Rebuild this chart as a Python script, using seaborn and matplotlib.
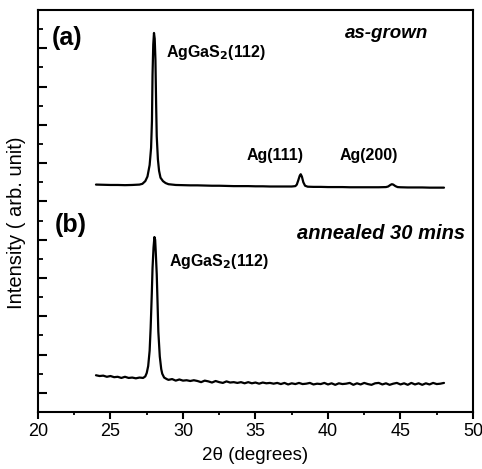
import matplotlib
matplotlib.use("Agg")
import matplotlib.pyplot as plt
import seaborn as sns
import pandas as pd
from matplotlib.ticker import MultipleLocator, FixedLocator, NullFormatter

# ---- data ----
a_two_theta = [24.0, 24.5, 25.0, 25.5, 26.0, 26.5, 27.0, 27.2, 27.4, 27.55, 27.7, 27.8,
               27.86, 27.9, 27.95, 28.0, 28.05, 28.1, 28.15, 28.19, 28.27, 28.35, 28.45,
               28.62, 28.8, 29.0, 29.5, 30.0, 30.5, 31.0, 31.5, 32.0, 32.5, 33.0, 33.5,
               34.0, 34.5, 35.0, 35.5, 36.0, 36.5, 37.0, 37.5, 37.75, 37.85, 37.95, 38.05,
               38.12, 38.2, 38.3, 38.42, 38.6, 39.0, 39.5, 40.0, 40.5, 41.0, 41.5, 42.0,
               42.5, 43.0, 43.5, 44.0, 44.15, 44.3, 44.4, 44.5, 44.65, 44.8, 45.0, 45.5,
               46.0, 46.5, 47.0, 47.5, 48.0]
a_intensity = [5.94, 5.935, 5.93, 5.93, 5.925, 5.93, 5.94, 5.96, 6.03, 6.15, 6.45, 6.9,
               7.6, 8.8, 9.6, 9.9, 9.75, 9.2, 8.0, 7.2, 6.6, 6.3, 6.12,
               6.03, 5.98, 5.95, 5.93, 5.925, 5.92, 5.92, 5.915, 5.91, 5.91, 5.905, 5.9,
               5.9, 5.9, 5.895, 5.895, 5.89, 5.89, 5.89, 5.89, 5.9, 5.94, 6.05, 6.17,
               6.21, 6.15, 6.0, 5.91, 5.885, 5.88, 5.88, 5.875, 5.875, 5.875, 5.87, 5.87,
               5.87, 5.87, 5.87, 5.875, 5.89, 5.93, 5.95, 5.94, 5.9, 5.875, 5.87, 5.865,
               5.865, 5.865, 5.86, 5.86, 5.86]

b_two_theta = [24.0, 24.25, 24.5, 24.75, 25.0, 25.25, 25.5, 25.75, 26.0, 26.25, 26.5,
               26.75, 27.0, 27.25, 27.4, 27.5, 27.6, 27.7, 27.77, 27.85, 27.9, 27.97,
               28.03, 28.08, 28.12, 28.19, 28.25, 28.3, 28.4, 28.5, 28.57, 28.7, 28.88,
               29.0, 29.25, 29.5, 29.75, 30.0, 30.25, 30.5, 30.75, 31.0, 31.25, 31.5,
               31.75, 32.0, 32.25, 32.5, 32.75, 33.0, 33.25, 33.5, 33.75, 34.0, 34.25,
               34.5, 34.75, 35.0, 35.25, 35.5, 35.75, 36.0, 36.25, 36.5, 36.75, 37.0,
               37.25, 37.5, 37.75, 38.0, 38.25, 38.5, 38.75, 39.0, 39.25, 39.5, 39.75,
               40.0, 40.25, 40.5, 40.75, 41.0, 41.25, 41.5, 41.75, 42.0, 42.25, 42.5,
               42.75, 43.0, 43.25, 43.5, 43.75, 44.0, 44.25, 44.5, 44.75, 45.0, 45.25,
               45.5, 45.75, 46.0, 46.25, 46.5, 46.75, 47.0, 47.25, 47.5, 47.75, 48.0]
b_intensity = [0.96, 0.94, 0.95, 0.92, 0.94, 0.91, 0.92, 0.89, 0.92, 0.89, 0.90,
               0.88, 0.90, 0.89, 0.93, 1.02, 1.2, 1.6, 2.2, 3.1, 3.76, 4.3,
               4.57, 4.5, 4.2, 3.6, 2.8, 2.1, 1.45, 1.12, 1.0, 0.9, 0.86,
               0.84, 0.86, 0.82, 0.85, 0.82, 0.83, 0.81, 0.83, 0.81, 0.78, 0.82,
               0.80, 0.77, 0.81, 0.78, 0.76, 0.80, 0.77, 0.78, 0.76, 0.78, 0.75,
               0.78, 0.75, 0.77, 0.74, 0.77, 0.75, 0.76, 0.74, 0.76, 0.73, 0.76,
               0.72, 0.75, 0.73, 0.76, 0.73, 0.74, 0.76, 0.72, 0.74, 0.73, 0.76,
               0.72, 0.75, 0.71, 0.75, 0.73, 0.74, 0.76, 0.71, 0.75, 0.72, 0.76,
               0.73, 0.71, 0.75, 0.76, 0.72, 0.75, 0.71, 0.74, 0.76, 0.72, 0.75,
               0.71, 0.76, 0.72, 0.75, 0.71, 0.75, 0.72, 0.76, 0.73, 0.74, 0.76]

x_ticks = [20, 25, 30, 35, 40, 45, 50]
x_labels = ["20", "25", "30", "35", "40", "45", "50"]

# ---- style ----
sns.set_style("ticks")
plt.rcParams["font.family"] = ["Liberation Sans", "DejaVu Sans"]
plt.rcParams["text.color"] = "black"
plt.rcParams["axes.labelcolor"] = "black"
plt.rcParams["xtick.color"] = "black"
plt.rcParams["ytick.color"] = "black"

fig = plt.figure(figsize=(4.82, 4.69), dpi=100)
ax = fig.add_axes([0.0788, 0.1215, 0.9025, 0.8572])

df_a = pd.DataFrame({"two_theta": a_two_theta, "intensity": a_intensity})
df_b = pd.DataFrame({"two_theta": b_two_theta, "intensity": b_intensity})
sns.lineplot(data=df_a, x="two_theta", y="intensity", ax=ax, color="black",
             linewidth=1.6, estimator=None, sort=False)
sns.lineplot(data=df_b, x="two_theta", y="intensity", ax=ax, color="black",
             linewidth=1.6, estimator=None, sort=False)

ax.set_xlim(20, 50)
ax.set_ylim(0, 10.5)
ax.set_xticks(x_ticks)
ax.set_xticklabels(x_labels)
ax.xaxis.set_minor_locator(MultipleLocator(2.5))
ax.yaxis.set_major_locator(FixedLocator([0.5 + i for i in range(10)]))
ax.yaxis.set_minor_locator(FixedLocator([1 + i for i in range(10)]))
ax.yaxis.set_major_formatter(NullFormatter())

for s in ax.spines.values():
    s.set_linewidth(1.5)
    s.set_color("black")

ax.tick_params(axis="x", which="major", direction="out", length=5, width=1.5,
               labelsize=13, pad=3, colors="black")
ax.tick_params(axis="x", which="minor", direction="out", length=2.5, width=1.3)
ax.tick_params(axis="y", which="major", direction="in", length=6.5, width=1.5)
ax.tick_params(axis="y", which="minor", direction="in", length=3.6, width=1.3)

ax.set_xlabel("2θ (degrees)", fontsize=13.5, labelpad=5, color="black")
ax.set_ylabel("Intensity ( arb. unit)", fontsize=14.5, color="black")
ax.yaxis.set_label_coords(-0.028, 0.47)

# ---- annotations ----
ax.text(22.03, 9.78, "(a)", fontsize=18, fontweight="bold", ha="center", va="center")
ax.text(22.24, 4.88, "(b)", fontsize=18, fontweight="bold", ha="center", va="center")
ax.text(46.9, 9.76, "as-grown", fontsize=13.5, fontweight="bold", style="italic",
        ha="right", va="baseline")
ax.text(49.45, 4.52, "annealed 30 mins", fontsize=14.5, fontweight="bold", style="italic",
        ha="right", va="baseline")
ax.text(28.83, 9.28, r"AgGaS$_\mathbf{2}$(112)", fontsize=11.5, fontweight="bold",
        ha="left", va="baseline")
ax.text(29.03, 3.81, r"AgGaS$_\mathbf{2}$(112)", fontsize=11.5, fontweight="bold",
        ha="left", va="baseline")
ax.text(34.41, 6.58, "Ag(111)", fontsize=11.5, fontweight="bold", ha="left", va="baseline")
ax.text(40.83, 6.58, "Ag(200)", fontsize=11.5, fontweight="bold", ha="left", va="baseline")

fig.savefig("out.png", dpi=100)
